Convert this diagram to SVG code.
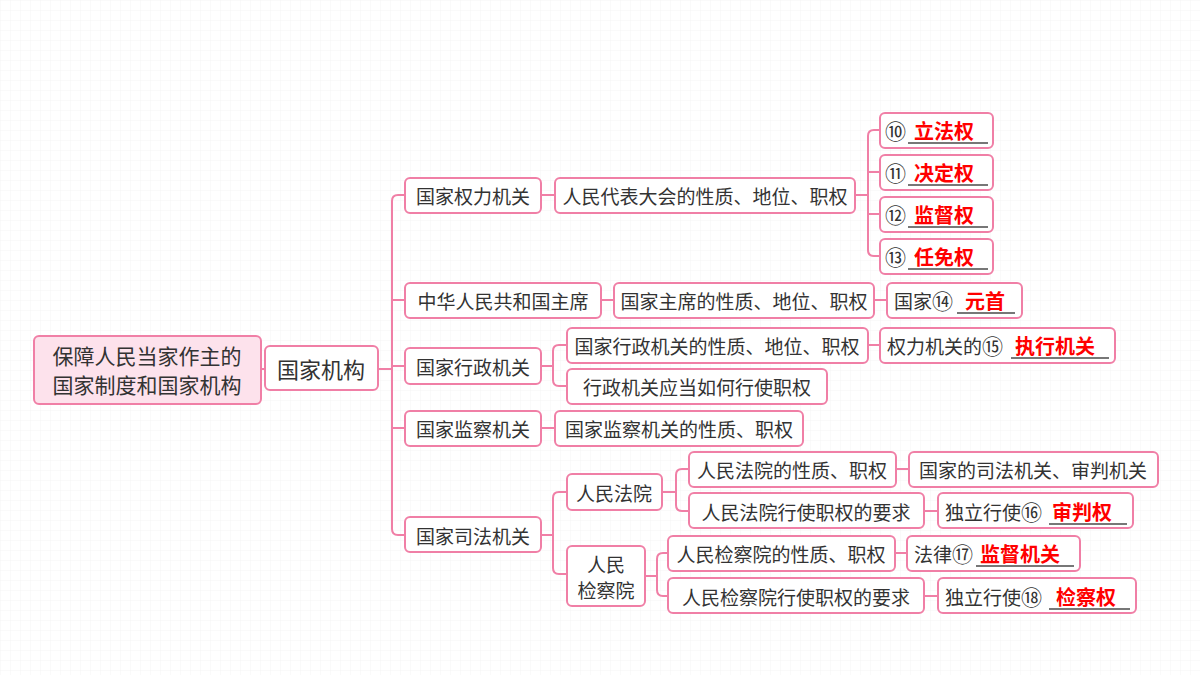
<svg xmlns="http://www.w3.org/2000/svg" width="1200" height="675" viewBox="0 0 1200 675">
<defs>
<pattern id="g" width="10" height="10" patternUnits="userSpaceOnUse"><path d="M10 0H0V10" fill="none" stroke="#eeeeee" stroke-width="0.6"/></pattern>
<style>
.b{fill:#fff;stroke:#f07fa6;stroke-width:2}
.r{fill:#fde2ec;stroke:#f07fa6;stroke-width:2}
.c{fill:none;stroke:#f07fa6;stroke-width:2}
text{font-family:"Noto Sans CJK SC","Noto Sans",sans-serif;font-size:19px;fill:#333;dominant-baseline:central}
.a{fill:#ff0000;font-weight:bold;font-size:20px}
.n{font-size:21px}
.u{stroke:#777;stroke-width:2}
</style>
</defs>
<rect width="1200" height="675" fill="#fff"/>
<rect width="1200" height="675" fill="url(#g)"/>
<g id="connectors" class="c">
<path d="M261 369H265M378 369H392M405 195H398Q392 195 392 201V529Q392 535 398 535H405M392 300H405M392 366H405M392 428H405"/>
<path d="M541 195H555M855 195H868M880 130H874Q868 130 868 136V250Q868 256 874 256H880M868 172H880M868 214H880"/>
<path d="M601 300H614M874 300H887"/>
<path d="M541 366H553M567 345H559Q553 345 553 351V380Q553 386 559 386H567M868 345H880"/>
<path d="M541 428H555"/>
<path d="M541 535H553M567 492H559Q553 492 553 498V568Q553 574 559 574H567"/>
<path d="M662 492H676M689 469H682Q676 469 676 475V505Q676 511 682 511H689M896 469H909M924 511H938"/>
<path d="M645 576H657M668 553H663Q657 553 657 559V590Q657 596 663 596H668M895 553H907M924 596H938"/>
</g>
<g id="root"><rect class="r" x="34" y="336" width="227" height="68" rx="5"/><text x="147" y="355" text-anchor="middle" style="font-size:21px">保障人民当家作主的</text><text x="147" y="384" text-anchor="middle" style="font-size:21px">国家制度和国家机构</text></g>
<g id="n1"><rect class="b" x="265" y="346" width="113" height="44" rx="5"/><text x="321" y="368" text-anchor="middle" style="font-size:22px">国家机构</text></g>
<g id="n2"><rect class="b" x="405" y="178" width="136" height="35" rx="5"/><text x="473" y="195" text-anchor="middle">国家权力机关</text></g>
<g id="n3"><rect class="b" x="405" y="283" width="196" height="35" rx="5"/><text x="503" y="300" text-anchor="middle">中华人民共和国主席</text></g>
<g id="n4"><rect class="b" x="405" y="348" width="136" height="36" rx="5"/><text x="473" y="366" text-anchor="middle">国家行政机关</text></g>
<g id="n5"><rect class="b" x="405" y="411" width="136" height="35" rx="5"/><text x="473" y="428" text-anchor="middle">国家监察机关</text></g>
<g id="n6"><rect class="b" x="405" y="517" width="136" height="35" rx="5"/><text x="473" y="535" text-anchor="middle">国家司法机关</text></g>
<g id="n7"><rect class="b" x="555" y="178" width="300" height="35" rx="5"/><text x="705" y="195" text-anchor="middle">人民代表大会的性质、地位、职权</text></g>
<g id="n8"><rect class="b" x="880" y="113" width="113" height="35" rx="5"/><text class="n" x="885" y="130">⑩</text><line class="u" x1="908" y1="143" x2="988" y2="143"/><text class="a" x="914" y="130">立法权</text></g>
<g id="n9"><rect class="b" x="880" y="155" width="113" height="35" rx="5"/><text class="n" x="885" y="172">⑪</text><line class="u" x1="908" y1="185" x2="988" y2="185"/><text class="a" x="914" y="172">决定权</text></g>
<g id="n10"><rect class="b" x="880" y="197" width="113" height="35" rx="5"/><text class="n" x="885" y="214">⑫</text><line class="u" x1="908" y1="227" x2="988" y2="227"/><text class="a" x="914" y="214">监督权</text></g>
<g id="n11"><rect class="b" x="880" y="239" width="113" height="35" rx="5"/><text class="n" x="885" y="256">⑬</text><line class="u" x1="908" y1="269" x2="988" y2="269"/><text class="a" x="914" y="256">任免权</text></g>
<g id="n12"><rect class="b" x="614" y="283" width="260" height="35" rx="5"/><text x="744" y="300" text-anchor="middle">国家主席的性质、地位、职权</text></g>
<g id="n13"><rect class="b" x="887" y="283" width="135" height="35" rx="5"/><text x="894" y="300">国家<tspan class="n">⑭</tspan></text><line class="u" x1="957" y1="313" x2="1015" y2="313"/><text class="a" x="965" y="300">元首</text></g>
<g id="n14"><rect class="b" x="567" y="328" width="301" height="35" rx="5"/><text x="717" y="345" text-anchor="middle">国家行政机关的性质、地位、职权</text></g>
<g id="n15"><rect class="b" x="567" y="369" width="260" height="35" rx="5"/><text x="697" y="386" text-anchor="middle">行政机关应当如何行使职权</text></g>
<g id="n16"><rect class="b" x="880" y="328" width="235" height="35" rx="5"/><text x="887" y="345">权力机关的<tspan class="n">⑮</tspan></text><line class="u" x1="1011" y1="358" x2="1109" y2="358"/><text class="a" x="1015" y="345">执行机关</text></g>
<g id="n17"><rect class="b" x="555" y="411" width="248" height="35" rx="5"/><text x="679" y="428" text-anchor="middle">国家监察机关的性质、职权</text></g>
<g id="n18"><rect class="b" x="567" y="474" width="95" height="36" rx="5"/><text x="614" y="492" text-anchor="middle">人民法院</text></g>
<g id="n19"><rect class="b" x="567" y="546" width="78" height="60" rx="5"/><text x="606" y="563" text-anchor="middle">人民</text><text x="606" y="589" text-anchor="middle">检察院</text></g>
<g id="n20"><rect class="b" x="689" y="452" width="207" height="35" rx="5"/><text x="792" y="469" text-anchor="middle">人民法院的性质、职权</text></g>
<g id="n21"><rect class="b" x="689" y="493" width="235" height="35" rx="5"/><text x="806" y="511" text-anchor="middle">人民法院行使职权的要求</text></g>
<g id="n22"><rect class="b" x="909" y="452" width="249" height="35" rx="5"/><text x="1033" y="469" text-anchor="middle">国家的司法机关、审判机关</text></g>
<g id="n23"><rect class="b" x="938" y="493" width="195" height="35" rx="5"/><text x="945" y="511">独立行使<tspan class="n">⑯</tspan></text><line class="u" x1="1049" y1="524" x2="1127" y2="524"/><text class="a" x="1052" y="511">审判权</text></g>
<g id="n24"><rect class="b" x="668" y="536" width="227" height="35" rx="5"/><text x="781" y="553" text-anchor="middle">人民检察院的性质、职权</text></g>
<g id="n25"><rect class="b" x="668" y="578" width="256" height="35" rx="5"/><text x="796" y="596" text-anchor="middle">人民检察院行使职权的要求</text></g>
<g id="n26"><rect class="b" x="907" y="536" width="173" height="35" rx="5"/><text x="914" y="553">法律<tspan class="n">⑰</tspan></text><line class="u" x1="976" y1="566" x2="1074" y2="566"/><text class="a" x="980" y="553">监督机关</text></g>
<g id="n27"><rect class="b" x="938" y="578" width="198" height="35" rx="5"/><text x="945" y="596">独立行使<tspan class="n">⑱</tspan></text><line class="u" x1="1049" y1="609" x2="1130" y2="609"/><text class="a" x="1056" y="596">检察权</text></g>
</svg>
